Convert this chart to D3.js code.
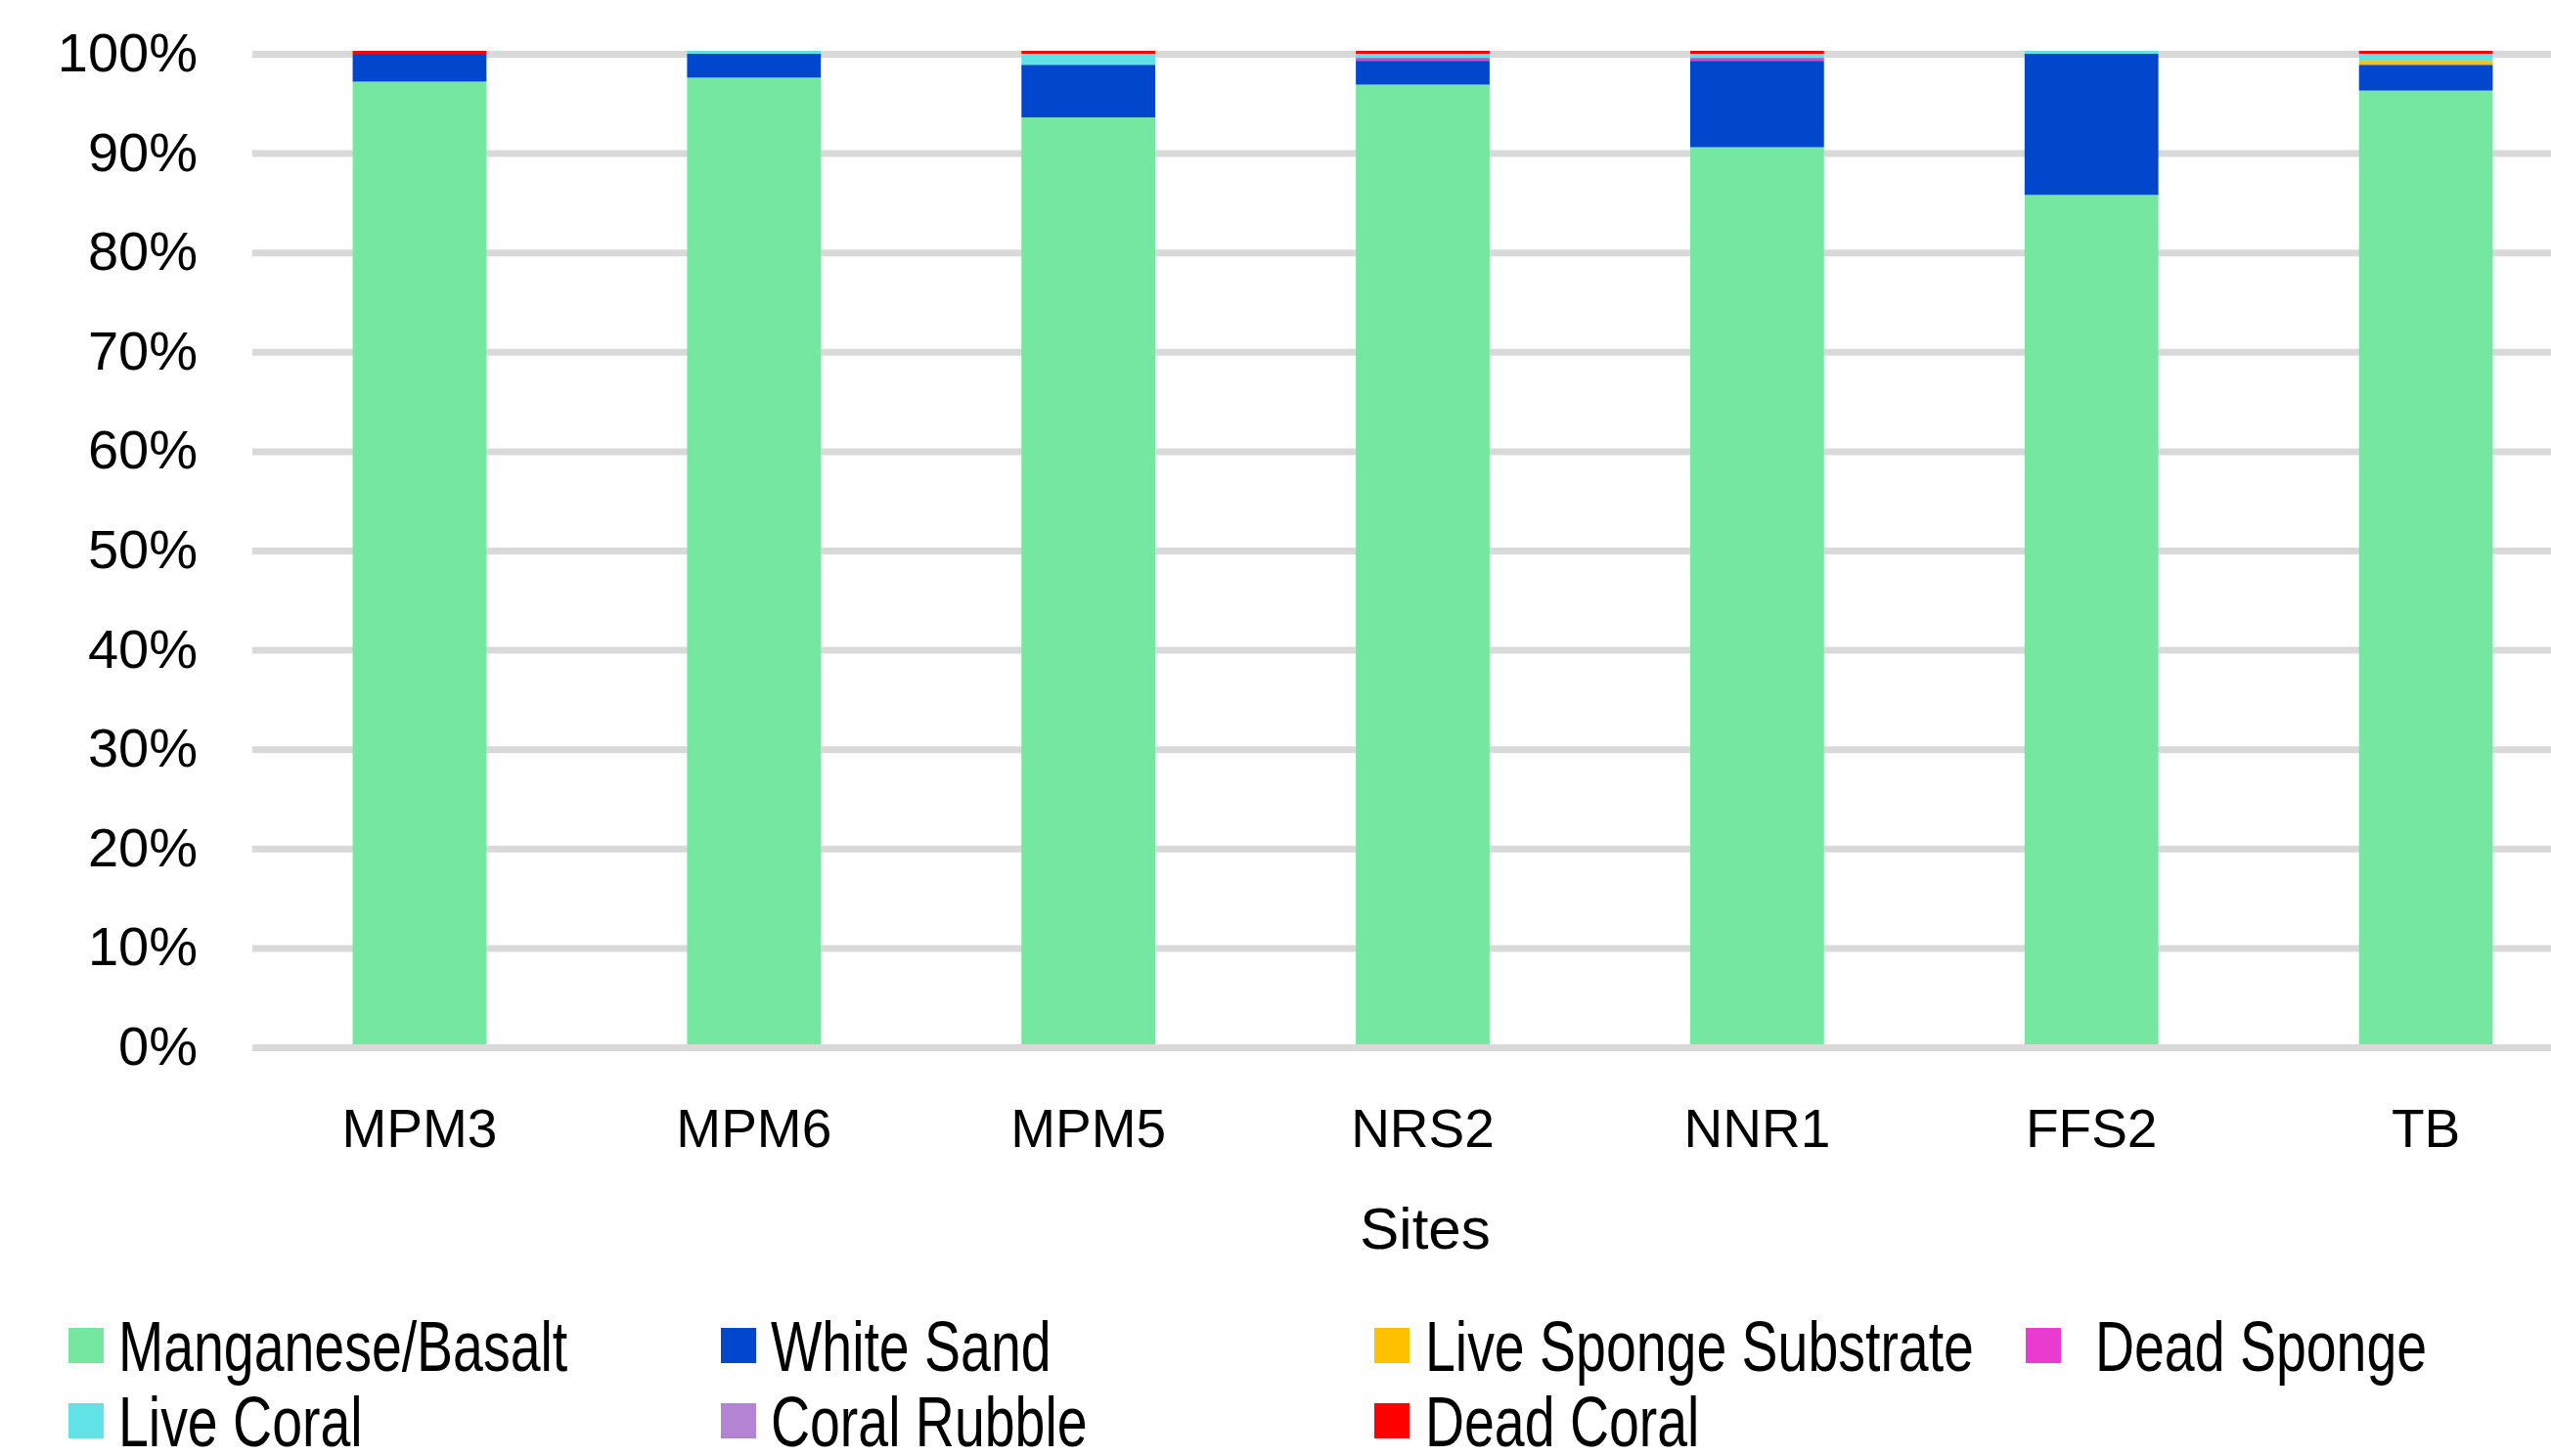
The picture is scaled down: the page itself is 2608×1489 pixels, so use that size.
<!DOCTYPE html>
<html>
<head>
<meta charset="utf-8">
<script src="https://cdn.jsdelivr.net/npm/d3@7"></script>
<style>
html,body{margin:0;padding:0;background:#fff;overflow:hidden;}
svg{display:block;}
text{font-family:"Liberation Sans",Arial,sans-serif;fill:#000;}
</style>
</head>
<body>
<svg id="chart" width="2608" height="1489"></svg>
<script>
const sites = ["MPM3","MPM6","MPM5","NRS2","NNR1","FFS2","TB"];
const seriesNames = ["Manganese/Basalt","White Sand","Live Sponge Substrate","Dead Sponge","Live Coral","Coral Rubble","Dead Coral"];
const seriesColors = ["#75E7A0","#0047CE","#FFC000","#E93BD0","#61E2E6","#B383D4","#FF0000"];
// values in % per site, same order as sites
const manganeseBasalt    = [96.9, 97.3, 93.3, 96.6, 90.3, 85.5, 96.0];
const whiteSand          = [2.8, 2.4, 5.3, 2.4, 8.7, 14.2, 2.6];
const liveSpongeSubstrate= [0, 0, 0, 0, 0, 0, 0.4];
const deadSponge         = [0, 0, 0, 0.3, 0.3, 0, 0];
const liveCoral          = [0, 0.3, 1.1, 0.4, 0.4, 0.3, 0.7];
const coralRubble        = [0, 0, 0, 0, 0, 0, 0];
const deadCoral          = [0.3, 0, 0.3, 0.3, 0.3, 0, 0.3];
const yTicks = [0,10,20,30,40,50,60,70,80,90,100];
const xTitle = "Sites";

const seriesValues = [manganeseBasalt, whiteSand, liveSpongeSubstrate, deadSponge, liveCoral, coralRubble, deadCoral];
const table = sites.map((s,i)=>{
  const row = {site:s};
  seriesNames.forEach((n,j)=>{ row[n] = seriesValues[j][i]; });
  return row;
});

const svg = d3.select("#chart");
const plotLeft = 258, plotRight = 2651, plotTop = 52, plotBottom = 1068;

const x = d3.scaleBand().domain(sites).range([plotLeft, plotRight]).paddingInner(0.6).paddingOuter(0.3);
const y = d3.scaleLinear().domain([0,100]).range([plotBottom, plotTop]);

// gridlines
svg.append("g").selectAll("line").data(yTicks).join("line")
  .attr("x1", plotLeft).attr("x2", 2608)
  .attr("y1", d=>y(d)+3.5).attr("y2", d=>y(d)+3.5)
  .attr("stroke", "#D9D9D9").attr("stroke-width", 7);

// y tick labels
svg.append("g").selectAll("text").data(yTicks).join("text")
  .attr("x", 202).attr("y", d=>y(d)+21)
  .attr("text-anchor","end").attr("font-size", 56)
  .text(d=>d+"%");

// bars
const stack = d3.stack().keys(seriesNames);
const stacked = stack(table);
svg.append("g").selectAll("g").data(stacked).join("g")
  .attr("fill", (d,i)=>seriesColors[i])
  .selectAll("rect").data(d=>d).join("rect")
  .attr("x", d=>x(d.data.site))
  .attr("width", x.bandwidth())
  .attr("y", d=>y(d[1]))
  .attr("height", d=>Math.max(0, y(d[0])-y(d[1])));

// x labels
svg.append("g").selectAll("text").data(sites).join("text")
  .attr("x", d=>x(d)+x.bandwidth()/2).attr("y", 1173)
  .attr("text-anchor","middle").attr("font-size", 55)
  .text(d=>d);

svg.append("text").attr("x", 1457).attr("y", 1277)
  .attr("text-anchor","middle").attr("font-size", 60).text(xTitle);

// legend
const legX = [70, 737, 1405, 2071];
const legTextX = [121, 788, 1457, 2142];
const legRowY = [1376, 1453];
const leg = svg.append("g").selectAll("g").data(seriesNames).join("g")
  .attr("transform", (d,i)=>`translate(0,${legRowY[Math.floor(i/4)]})`);
leg.append("rect")
  .attr("x", (d,i)=>legX[i%4]).attr("y", -18)
  .attr("width", 36).attr("height", 36)
  .attr("fill", (d,i)=>seriesColors[i]);
leg.append("text")
  .attr("transform", (d,i)=>`translate(${legTextX[i%4]},26) scale(0.77,1)`)
  .attr("font-size", 72)
  .text(d=>d);
</script>
</body>
</html>
